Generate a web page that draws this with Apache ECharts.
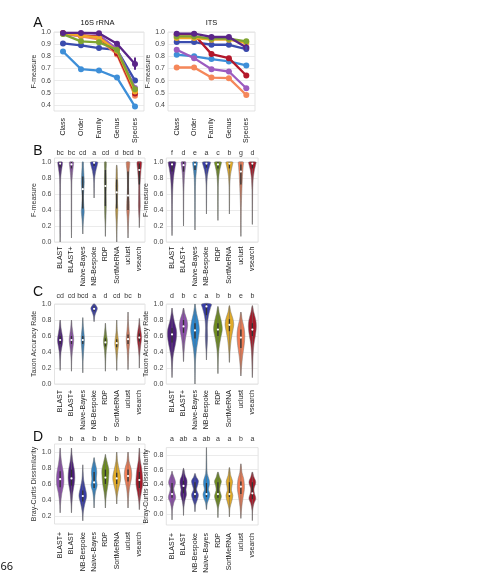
<!DOCTYPE html>
<html><head><meta charset="utf-8">
<script src="https://cdn.jsdelivr.net/npm/echarts@6/dist/echarts.min.js"></script>
<style>html,body{margin:0;padding:0;background:#fff}#c{width:486px;height:581px}</style>
</head><body><div id="c"></div>
<script>
// ---------------- DATA ----------------
const ranks = ['Class','Order','Family','Genus','Species'];
const methods = ['BLAST','BLAST+','Naive-Bayes','NB-Bespoke','RDP','SortMeRNA','uclust','vsearch'];
const methodsD = ['BLAST+','BLAST','NB-Bespoke','Naive-Bayes','RDP','SortMeRNA','uclust','vsearch'];
const methodColors = ['#4b1e78','#8c50aa','#2d87cd','#373ca5','#6e8c1e','#e1aa28','#f07d55','#a51928'];
const lineColors = ['#5a2588','#9c5cc0','#3e8fd8','#3a4cae','#7fa431','#f0a928','#f5875a','#b3182b'];

// Panel A: F-measure by rank, rows follow `methods`
const fm16S = [
  [0.992,0.992,0.990,0.904,0.736],
  [0.985,0.965,0.975,0.860,0.540],
  [0.840,0.694,0.683,0.625,0.386],
  [0.906,0.890,0.868,0.854,0.600],
  [0.983,0.923,0.915,0.854,0.529],
  [0.990,0.970,0.955,0.845,0.510],
  [0.990,0.965,0.940,0.815,0.475],
  [0.990,0.975,0.960,0.825,0.495]
];
const fmITS = [
  [0.986,0.986,0.959,0.959,0.873],
  [0.854,0.785,0.694,0.675,0.537],
  [0.813,0.800,0.777,0.758,0.725],
  [0.917,0.917,0.895,0.895,0.860],
  [0.964,0.964,0.945,0.945,0.923],
  [0.950,0.950,0.937,0.937,0.909],
  [0.708,0.708,0.625,0.620,0.482],
  [0.980,0.980,0.818,0.785,0.642]
];
// error bars: [methodIdx, rankIdx, low, high]
const err16S = [[0,4,0.69,0.79]];
const errITS = [[0,4,0.85,0.90],[3,4,0.84,0.885]];

// significance letters
const lettersB16 = ['bc','bc','cd','a','cd','d','bcd','b'];
const lettersBITS = ['f','d','e','a','c','b','g','d'];
const lettersC16 = ['cd','cd','bcd','a','d','cd','bc','b'];
const lettersCITS = ['d','b','c','a','b','b','e','b'];
const lettersD16 = ['b','b','a','b','b','b','b','b'];
const lettersDITS = ['a','ab','a','ab','a','a','b','a'];

// violin outlines: [value, half-width as fraction of band]
const violinB16 = [
  [[0.0,0],[0.1,0.015],[0.3,0.02],[0.5,0.025],[0.7,0.03],[0.8,0.05],[0.87,0.1],[0.93,0.16],[0.97,0.2],[1.0,0.2]],
  [[0.05,0],[0.3,0.02],[0.6,0.025],[0.75,0.04],[0.85,0.09],[0.93,0.15],[1.0,0.18]],
  [[0.1,0],[0.2,0.03],[0.3,0.08],[0.38,0.13],[0.46,0.09],[0.56,0.06],[0.66,0.1],[0.75,0.13],[0.85,0.1],[0.95,0.06],[1.0,0.05]],
  [[0.55,0],[0.65,0.015],[0.75,0.03],[0.82,0.07],[0.9,0.17],[0.96,0.28],[1.0,0.32]],
  [[0.07,0],[0.2,0.02],[0.3,0.05],[0.45,0.08],[0.6,0.07],[0.75,0.09],[0.9,0.07],[1.0,0.08]],
  [[0.0,0],[0.1,0.02],[0.25,0.05],[0.4,0.1],[0.5,0.07],[0.6,0.08],[0.7,0.1],[0.8,0.07],[0.9,0.05],[0.96,0.02]],
  [[0.05,0],[0.15,0.02],[0.3,0.07],[0.4,0.12],[0.5,0.11],[0.6,0.07],[0.7,0.05],[0.8,0.06],[0.9,0.1],[1.0,0.15]],
  [[0.18,0],[0.3,0.03],[0.45,0.08],[0.55,0.07],[0.7,0.06],[0.8,0.1],[0.9,0.15],[1.0,0.2]]
];
const violinBITS = [
  [[0.08,0],[0.2,0.015],[0.4,0.025],[0.6,0.05],[0.75,0.1],[0.85,0.17],[0.93,0.26],[1.0,0.32]],
  [[0.2,0],[0.35,0.015],[0.6,0.03],[0.75,0.06],[0.85,0.1],[0.93,0.16],[1.0,0.2]],
  [[0.15,0],[0.3,0.015],[0.6,0.03],[0.78,0.06],[0.88,0.12],[0.95,0.18],[1.0,0.2]],
  [[0.35,0],[0.5,0.015],[0.7,0.03],[0.82,0.08],[0.9,0.18],[0.96,0.3],[1.0,0.35]],
  [[0.27,0],[0.45,0.015],[0.7,0.03],[0.82,0.08],[0.9,0.16],[0.96,0.26],[1.0,0.3]],
  [[0.35,0],[0.5,0.015],[0.7,0.03],[0.82,0.08],[0.9,0.17],[0.96,0.26],[1.0,0.3]],
  [[0.07,0],[0.2,0.015],[0.4,0.03],[0.55,0.06],[0.7,0.1],[0.85,0.15],[0.95,0.2],[1.0,0.22]],
  [[0.22,0],[0.4,0.015],[0.65,0.03],[0.8,0.08],[0.9,0.18],[0.96,0.28],[1.0,0.32]]
];
const violinC16 = [
  [[0.17,0],[0.3,0.03],[0.4,0.08],[0.5,0.2],[0.55,0.24],[0.6,0.2],[0.7,0.08],[0.8,0]],
  [[0.16,0],[0.3,0.03],[0.4,0.08],[0.5,0.17],[0.56,0.2],[0.62,0.15],[0.7,0.07],[0.8,0]],
  [[0.14,0],[0.3,0.03],[0.45,0.1],[0.55,0.15],[0.62,0.12],[0.72,0.05],[0.83,0]],
  [[0.78,0],[0.85,0.06],[0.9,0.18],[0.945,0.29],[0.98,0.17],[1.0,0.06]],
  [[0.16,0],[0.3,0.03],[0.42,0.08],[0.5,0.16],[0.55,0.17],[0.62,0.1],[0.7,0.04],[0.76,0]],
  [[0.17,0],[0.3,0.03],[0.42,0.1],[0.5,0.17],[0.56,0.14],[0.65,0.06],[0.8,0]],
  [[0.18,0],[0.3,0.03],[0.42,0.08],[0.52,0.15],[0.58,0.16],[0.66,0.1],[0.78,0.03],[0.9,0]],
  [[0.2,0],[0.35,0.03],[0.48,0.12],[0.58,0.2],[0.66,0.14],[0.74,0.05],[0.82,0]]
];
const violinCITS = [
  [[0.08,0],[0.2,0.03],[0.35,0.1],[0.5,0.3],[0.6,0.4],[0.68,0.38],[0.78,0.2],[0.88,0.07],[0.95,0]],
  [[0.28,0],[0.4,0.05],[0.55,0.15],[0.65,0.28],[0.73,0.36],[0.8,0.3],[0.88,0.12],[0.95,0]],
  [[0.0,0],[0.15,0.02],[0.3,0.05],[0.45,0.15],[0.58,0.3],[0.68,0.38],[0.78,0.3],[0.88,0.14],[0.96,0.05],[1.0,0.02]],
  [[0.3,0],[0.4,0.03],[0.5,0.07],[0.6,0.1],[0.7,0.08],[0.8,0.12],[0.88,0.22],[0.95,0.35],[1.0,0.42]],
  [[0.13,0],[0.3,0.03],[0.45,0.1],[0.58,0.25],[0.68,0.38],[0.78,0.3],[0.88,0.13],[0.97,0]],
  [[0.27,0],[0.4,0.05],[0.55,0.15],[0.65,0.27],[0.74,0.38],[0.82,0.3],[0.9,0.12],[0.98,0]],
  [[0.1,0],[0.2,0.05],[0.35,0.15],[0.48,0.28],[0.6,0.34],[0.7,0.28],[0.8,0.12],[0.9,0]],
  [[0.08,0],[0.2,0.03],[0.35,0.06],[0.5,0.14],[0.62,0.28],[0.72,0.35],[0.8,0.3],[0.9,0.12],[0.98,0]]
];
const violinD16 = [
  [[0.24,0],[0.35,0.04],[0.48,0.15],[0.58,0.3],[0.66,0.33],[0.75,0.28],[0.85,0.15],[0.95,0.06],[1.05,0]],
  [[0.24,0],[0.35,0.04],[0.5,0.13],[0.6,0.25],[0.68,0.3],[0.78,0.25],[0.88,0.12],[0.97,0.05],[1.05,0]],
  [[0.14,0],[0.25,0.05],[0.35,0.18],[0.45,0.34],[0.55,0.22],[0.65,0.08],[0.75,0.03],[0.84,0]],
  [[0.3,0],[0.4,0.04],[0.5,0.12],[0.58,0.27],[0.66,0.2],[0.74,0.24],[0.8,0.2],[0.88,0.07],[0.93,0]],
  [[0.3,0],[0.4,0.04],[0.5,0.12],[0.6,0.24],[0.7,0.3],[0.78,0.31],[0.86,0.18],[0.93,0.06],[0.97,0]],
  [[0.35,0],[0.45,0.05],[0.55,0.18],[0.64,0.33],[0.7,0.34],[0.78,0.22],[0.88,0.08],[1.0,0]],
  [[0.3,0],[0.42,0.04],[0.55,0.13],[0.65,0.28],[0.72,0.33],[0.8,0.26],[0.88,0.1],[1.0,0]],
  [[0.28,0],[0.38,0.05],[0.5,0.18],[0.6,0.3],[0.7,0.28],[0.8,0.2],[0.9,0.08],[1.05,0]]
];
const violinDITS = [
  [[-0.08,0],[0.05,0.03],[0.15,0.15],[0.22,0.32],[0.3,0.2],[0.35,0.16],[0.42,0.3],[0.48,0.22],[0.55,0.05],[0.58,0]],
  [[-0.02,0],[0.08,0.03],[0.18,0.12],[0.26,0.26],[0.33,0.22],[0.4,0.3],[0.46,0.3],[0.52,0.15],[0.62,0]],
  [[0.03,0],[0.12,0.05],[0.2,0.22],[0.26,0.3],[0.33,0.14],[0.4,0.25],[0.45,0.3],[0.5,0.12],[0.55,0]],
  [[0.06,0],[0.15,0.08],[0.22,0.25],[0.27,0.3],[0.33,0.18],[0.4,0.26],[0.46,0.24],[0.55,0.07],[0.7,0.03],[0.9,0]],
  [[-0.05,0],[0.08,0.04],[0.17,0.18],[0.24,0.3],[0.32,0.16],[0.38,0.2],[0.44,0.3],[0.5,0.15],[0.57,0]],
  [[-0.04,0],[0.08,0.05],[0.17,0.2],[0.25,0.3],[0.32,0.18],[0.38,0.22],[0.44,0.28],[0.52,0.12],[0.63,0]],
  [[-0.06,0],[0.05,0.05],[0.15,0.12],[0.25,0.22],[0.33,0.3],[0.4,0.3],[0.48,0.24],[0.56,0.1],[0.68,0]],
  [[-0.09,0],[0.05,0.03],[0.14,0.14],[0.21,0.3],[0.28,0.18],[0.34,0.14],[0.43,0.3],[0.5,0.14],[0.57,0]]
];
// inner boxes: [q1, median, q3]
const boxB16 = [[0.93,0.98,1.0],[0.92,0.97,1.0],[0.42,0.66,0.82],[0.95,0.99,1.0],[0.45,0.7,0.9],[0.42,0.62,0.78],[0.4,0.58,0.88],[0.72,0.9,0.98]];
const boxBITS = [[0.88,0.97,1.0],[0.88,0.96,1.0],[0.9,0.97,1.0],[0.93,0.98,1.0],[0.92,0.97,1.0],[0.92,0.98,1.0],[0.72,0.88,0.97],[0.92,0.98,1.0]];
const boxC16 = [[0.5,0.55,0.6],[0.5,0.55,0.6],[0.5,0.55,0.6],[0.91,0.94,0.97],[0.47,0.52,0.57],[0.46,0.51,0.56],[0.5,0.56,0.62],[0.53,0.58,0.63]];
const boxCITS = [[0.52,0.62,0.7],[0.64,0.72,0.8],[0.57,0.67,0.76],[0.86,0.97,1.0],[0.6,0.68,0.76],[0.66,0.74,0.81],[0.45,0.58,0.68],[0.6,0.68,0.76]];
const boxD16 = [[0.56,0.66,0.76],[0.58,0.67,0.78],[0.38,0.45,0.52],[0.55,0.62,0.75],[0.6,0.68,0.78],[0.6,0.67,0.74],[0.63,0.7,0.78],[0.55,0.65,0.75]];
const boxDITS = [[0.22,0.27,0.42],[0.28,0.38,0.45],[0.22,0.27,0.43],[0.23,0.27,0.42],[0.22,0.27,0.43],[0.23,0.27,0.43],[0.27,0.37,0.44],[0.2,0.28,0.43]];

// ---------------- LAYOUT ----------------
const FONT = '"Liberation Sans", Arial, sans-serif';
const grids = [
  {left:54, top:32, width:90, height:79},
  {left:168, top:32, width:87, height:79},
  {left:54.5, top:158, width:90.5, height:84},
  {left:166.3, top:158, width:91.8, height:84},
  {left:54.5, top:304, width:90.5, height:80},
  {left:166.3, top:304, width:91.8, height:80},
  {left:54.5, top:444, width:90.5, height:80},
  {left:166.3, top:447.6, width:91.8, height:77.4}
].map(g => Object.assign({show:true, borderColor:'#dcdcdc', borderWidth:0.8, backgroundColor:'transparent'}, g));

const yspec = [
  {min:0.35,max:1.0,interval:0.05,cyc:['t','v'],step:0.1,name:'F-measure',gap:12.5},
  {min:0.35,max:1.0,interval:0.05,cyc:['t','v'],step:0.1,name:'F-measure',gap:15.5},
  {min:0,max:1.05,interval:0.05,cyc:['v','t','t','t'],step:0.2,name:'F-measure',gap:14},
  {min:0,max:1.05,interval:0.05,cyc:['v','t','t','t'],step:0.2,name:'F-measure',gap:13},
  {min:0,max:1.0,interval:0.2,cyc:['v'],step:0.2,name:'Taxon Accuracy Rate',gap:13.5},
  {min:0,max:1.0,interval:0.2,cyc:['v'],step:0.2,name:'Taxon Accuracy Rate',gap:12.3},
  {min:0.1,max:1.1,interval:0.1,cyc:['t','v'],step:0.2,name:'Bray-Curtis Dissimilarity',gap:14.3},
  {min:-0.15,max:0.9,interval:0.05,cyc:['t','t','t','v'],step:0.2,name:'Bray-Curtis Dissimilarity',gap:12.8}
];
const GRIDLINE = '#e6e6e6';
const yAxis = yspec.map((s,i) => ({
  type:'value', gridIndex:i, min:s.min, max:s.max, interval:s.interval,
  name:s.name, nameLocation:'middle', nameGap:s.gap,
  nameTextStyle:{fontSize:7, color:'#333', fontFamily:FONT},
  axisLine:{show:false}, axisTick:{show:false},
  axisLabel:{fontSize:7, color:'#444', fontFamily:FONT, margin:3,
    formatter: v => { const r = Math.round(v/s.step); return Math.abs(v - r*s.step) < 1e-6 ? Math.abs(r*s.step).toFixed(1) : ''; }},
  splitLine:{show:true, lineStyle:{width:0.8, color:s.cyc.map(c => c==='v' ? GRIDLINE : 'rgba(0,0,0,0)')}}
}));

const bottomCats = [ranks, ranks, methods, methods, methods, methods, methodsD, methodsD];
const labelMargins = [7,7,4.5,4.5,6,6,8,8];
const xAxis = bottomCats.map((cats,i) => ({
  type:'category', gridIndex:i, data:cats, position:'bottom',
  axisLine:{show:false}, axisTick:{show:false}, splitLine:{show:false},
  axisLabel:{rotate:90, interval:0, fontSize:7, color:'#222', fontFamily:FONT, margin:labelMargins[i]}
}));
const topLetters = [lettersB16, lettersBITS, lettersC16, lettersCITS, lettersD16, lettersDITS];
const topMargins = [1, 1, 4.5, 4.5, 1.5, 5];
topLetters.forEach((L,k) => xAxis.push({
  type:'category', gridIndex:k+2, data:L, position:'top',
  axisLine:{show:false}, axisTick:{show:false}, splitLine:{show:false},
  axisLabel:{interval:0, fontSize:7, color:'#333', fontFamily:FONT, margin:topMargins[k]}
}));

// ---------------- SERIES ----------------
const series = [];
const drawOrder = [2,3,1,6,7,5,4,0];
function addLines(gi, table, errs) {
  drawOrder.forEach(m => series.push({
    type:'line', xAxisIndex:gi, yAxisIndex:gi, data:table[m], name:methods[m],
    symbol:'circle', symbolSize:6, lineStyle:{width:2.3, color:lineColors[m]},
    itemStyle:{color:lineColors[m]}, z:2+drawOrder.indexOf(m), silent:true
  }));
  series.push({
    type:'custom', xAxisIndex:gi, yAxisIndex:gi, z:20, silent:true,
    data: errs.map(e => [e[1], e[2], e[3], e[0]]),
    renderItem(p, api) {
      const a = api.coord([api.value(0), api.value(1)]);
      const b = api.coord([api.value(0), api.value(2)]);
      return {type:'line', shape:{x1:a[0],y1:a[1],x2:b[0],y2:b[1]},
        style:{stroke:lineColors[api.value(3)], lineWidth:2}};
    }
  });
}
addLines(0, fm16S, err16S);
addLines(1, fmITS, errITS);

function addViolins(gi, names, profiles, boxes, smooth) {
  series.push({
    type:'custom', xAxisIndex:gi, yAxisIndex:gi, z:5, clip:false, silent:true,
    data: boxes.map((b,i) => [i, b[0], b[1], b[2]]),
    renderItem(params, api) {
      const i = api.value(0);
      const prof = profiles[i];
      const band = api.size([1,0])[0];
      const cx = api.coord([i, 0])[0];
      const y = v => api.coord([i, v])[1];
      const pts = [];
      prof.forEach(p => pts.push([cx + p[1]*band, y(p[0])]));
      for (let k = prof.length-1; k >= 0; k--) { const p = prof[k]; if (p[1] > 0) pts.push([cx - p[1]*band, y(p[0])]); }
      const color = methodColors[methods.indexOf(names[i])];
      const yLo = y(prof[0][0]), yHi = y(prof[prof.length-1][0]);
      return {type:'group', children:[
        {type:'polygon', shape:{points:pts, smooth:smooth}, style:{fill:color, stroke:'#777777', lineWidth:0.5}},
        {type:'line', shape:{x1:cx,y1:yLo,x2:cx,y2:yHi}, style:{stroke:'#6a6a6a', lineWidth:0.6}},
        {type:'line', shape:{x1:cx,y1:y(api.value(1)),x2:cx,y2:y(api.value(3))}, style:{stroke:'#333333', lineWidth:1.3}},
        {type:'circle', shape:{cx:cx, cy:y(api.value(2)), r:1.1}, style:{fill:'#ffffff'}}
      ]};
    }
  });
}
addViolins(2, methods, violinB16, boxB16, 0.2);
addViolins(3, methods, violinBITS, boxBITS, 0.2);
addViolins(4, methods, violinC16, boxC16, 0.35);
addViolins(5, methods, violinCITS, boxCITS, 0.35);
addViolins(6, methodsD, violinD16, boxD16, 0.35);
addViolins(7, methodsD, violinDITS, boxDITS, 0.35);

const txt = (t, x, y, size, extra) => Object.assign({type:'text', x, y, silent:true,
  style:{text:t, fontSize:size, fontFamily:FONT, fill:'#111', align:'center', verticalAlign:'middle'}}, extra || {});
const graphic = [
  txt('A', 38, 23.3, 14), txt('B', 38, 151, 14), txt('C', 38, 292, 14), txt('D', 38, 436.7, 14),
  txt('16S rRNA', 97.5, 22.5, 7.5), txt('ITS', 211.5, 22.5, 7.5),
  {type:'text', x:6.8, y:566.7, silent:true, style:{text:'66', fontSize:11, fontFamily:'"Noto Sans", sans-serif', fill:'#111', align:'center', verticalAlign:'middle'}}
];

const chart = echarts.init(document.getElementById('c'), null, {renderer:'canvas'});
chart.setOption({animation:false, backgroundColor:'#fff', grid:grids, xAxis, yAxis, series, graphic});
</script></body></html>
